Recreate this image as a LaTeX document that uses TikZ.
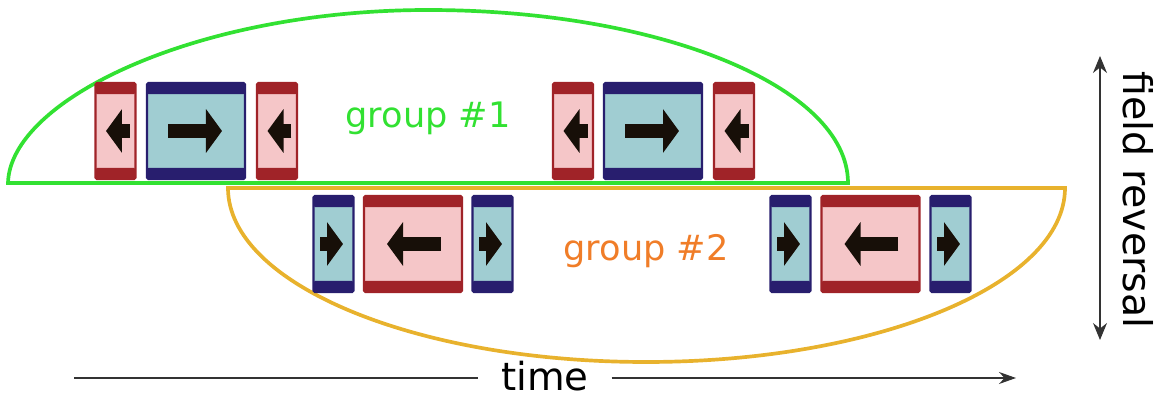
\documentclass[tikz,border=0pt]{standalone}
\usepackage{fontspec}
\setmainfont{DejaVu Sans}
\usetikzlibrary{arrows.meta}
\definecolor{bandred}{RGB}{160,35,40}
\definecolor{pinkfill}{RGB}{245,198,200}
\definecolor{bandblue}{RGB}{40,30,110}
\definecolor{bluefill}{RGB}{160,205,210}
\definecolor{grpgreen}{RGB}{50,225,50}
\definecolor{grpgold}{RGB}{232,178,45}
\definecolor{grporange}{RGB}{240,125,40}
\begin{document}
\begin{tikzpicture}[
        x=0.02cm, y=-0.02cm,
        magnet/.style={rectangle, draw, line width=1.3pt, rounded corners=0.8pt, minimum height=1.92cm, inner sep=0pt},
        narrow/.style={minimum width=0.8cm},
        wide/.style={minimum width=1.96cm},
        bands/.style={path picture={
            \fill[#1] (path picture bounding box.north west) rectangle ([yshift=-0.22cm]path picture bounding box.north east);
            \fill[#1] (path picture bounding box.south west) rectangle ([yshift=0.22cm]path picture bounding box.south east);}},
        redbox/.style={magnet, draw=bandred, fill=pinkfill, bands=bandred},
        bluebox/.style={magnet, draw=bandblue, fill=bluefill, bands=bandblue},
        spin/.style={line width=0.28cm, black!88!brown, -{Triangle[length=0.32cm, width=0.86cm]}},
        axis/.style={semithick, black!80},
        every node/.style={font=\fontsize{20}{24}\selectfont}
        ]
      \useasboundingbox (0,0) rectangle (1161,398);
      % the two groups
      \draw[grpgold, line width=2.1pt] (228,188) -- (1065,188) .. controls (1065,284) and (877,362) .. (646,362) .. controls (415,362) and (228,284) .. cycle;
      \draw[grpgreen, line width=2.1pt] (8,183) .. controls (10,100) and (196,10) .. (428,10) .. controls (660,10) and (848,87) .. (848,183) -- cycle;
      \node[grpgreen, anchor=base] (g1) at (428,128) {group \#1};
      \node[grporange, anchor=base] (g2) at (646,261) {group \#2};
      % group 1
      \node[redbox, narrow] (r1) at (115.5,131) {};
      \node[bluebox, wide] (b1) at (196,131) {};
      \node[redbox, narrow] (r2) at (277,131) {};
      \node[redbox, narrow] (r3) at (573,131) {};
      \node[bluebox, wide] (b2) at (653,131) {};
      \node[redbox, narrow] (r4) at (734,131) {};
      \draw[spin] ([xshift=0.29cm]r1.center) -- ([xshift=-0.19cm]r1.center);
      \draw[spin] ([xshift=-0.56cm]b1.center) -- ([xshift=0.52cm]b1.center);
      \draw[spin] ([xshift=0.29cm]r2.center) -- ([xshift=-0.19cm]r2.center);
      \draw[spin] ([xshift=0.29cm]r3.center) -- ([xshift=-0.19cm]r3.center);
      \draw[spin] ([xshift=-0.56cm]b2.center) -- ([xshift=0.52cm]b2.center);
      \draw[spin] ([xshift=0.29cm]r4.center) -- ([xshift=-0.19cm]r4.center);
      % group 2
      \node[bluebox, narrow] (b3) at (333.5,244) {};
      \node[redbox, wide] (r5) at (413,244) {};
      \node[bluebox, narrow] (b4) at (492.5,244) {};
      \node[bluebox, narrow] (b5) at (790.5,244) {};
      \node[redbox, wide] (r6) at (870.5,244) {};
      \node[bluebox, narrow] (b6) at (950.5,244) {};
      \draw[spin] ([xshift=-0.27cm]b3.center) -- ([xshift=0.19cm]b3.center);
      \draw[spin] ([xshift=0.56cm]r5.center) -- ([xshift=-0.52cm]r5.center);
      \draw[spin] ([xshift=-0.27cm]b4.center) -- ([xshift=0.19cm]b4.center);
      \draw[spin] ([xshift=-0.27cm]b5.center) -- ([xshift=0.19cm]b5.center);
      \draw[spin] ([xshift=0.56cm]r6.center) -- ([xshift=-0.52cm]r6.center);
      \draw[spin] ([xshift=-0.27cm]b6.center) -- ([xshift=0.19cm]b6.center);
      % axes
      \node[font=\fontsize{22}{26}\selectfont, inner ysep=0pt, inner xsep=0.45cm] (time) at (545,376) {time};
      \coordinate (t0) at (74,378);
      \coordinate (t1) at (1016,378);
      \draw[axis] (t0) -- (time.west |- t0);
      \draw[axis, -{Stealth[length=0.34cm, width=0.24cm]}] (time.east |- t1) -- (t1);
      \coordinate (f0) at (1100,56);
      \coordinate (f1) at (1100,340);
      \draw[axis, {Stealth[length=0.34cm, width=0.28cm]}-{Stealth[length=0.34cm, width=0.28cm]}] (f0) -- (f1);
      \node[font=\fontsize{22.5}{26}\selectfont, rotate=-90, anchor=base] (field) at (1123,200) {field reversal};
    \end{tikzpicture}
\end{document}
